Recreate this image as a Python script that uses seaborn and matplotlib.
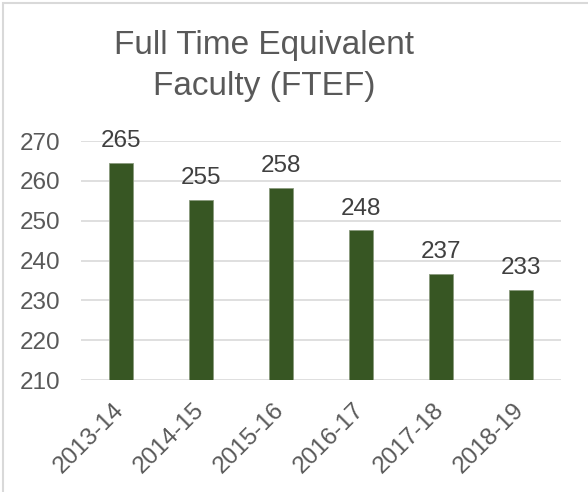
import matplotlib
matplotlib.use("Agg")
import matplotlib.pyplot as plt
from matplotlib.patches import Rectangle
import seaborn as sns
import pandas as pd

# values
years = ["2013-14", "2014-15", "2015-16", "2016-17", "2017-18", "2018-19"]
ftef = [264.6, 255.3, 258.3, 247.6, 236.7, 232.7]

BAR_COLOR = "#375623"
TEXT_GRAY = "#595959"
LABEL_GRAY = "#404040"
GRID_GRAY = "#d9d9d9"

sns.set_theme(style="white")
plt.rcParams["font.family"] = ["Liberation Sans", "DejaVu Sans"]

df = pd.DataFrame({"year": years, "ftef": ftef})

fig = plt.figure(figsize=(5.88, 4.92), dpi=100)
ax = fig.add_axes([0.1378, 0.2276, 0.8162, 0.4858])

sns.barplot(data=df, x="year", y="ftef", color=BAR_COLOR, width=0.31,
            saturation=1, edgecolor="#8a9a7e", linewidth=0.6, ax=ax, zorder=3)

ax.set_ylim(210, 270)
ax.set_yticks(range(210, 271, 10))
ax.set_xlim(-0.5, len(years) - 0.5)
ax.yaxis.grid(True, color=GRID_GRAY, linewidth=1.2, zorder=0)
ax.xaxis.grid(False)
for s in ax.spines.values():
    s.set_visible(False)
ax.tick_params(axis="both", length=0, labelsize=17.5, labelcolor=TEXT_GRAY)
ax.tick_params(axis="y", pad=15)
ax.tick_params(axis="x", pad=19)
ax.set_xlabel("")
ax.set_ylabel("")
for lbl in ax.get_xticklabels():
    lbl.set_rotation(45)
    lbl.set_ha("right")
    lbl.set_va("center")
    lbl.set_rotation_mode("anchor")

for cont in ax.containers:
    ax.bar_label(cont, labels=[f"{v:.0f}" for v in ftef], padding=7.5,
                 fontsize=17.5, color=LABEL_GRAY, clip_on=False)

fig.text(0.449, 0.94, "Full Time Equivalent\nFaculty (FTEF)", ha="center",
         va="top", fontsize=24, color=TEXT_GRAY, linespacing=1.45)

# light chart-area border (left and top edges visible)
fig.patches.append(Rectangle((0.005, -0.05), 1.2, 1.044, transform=fig.transFigure,
                             fill=False, edgecolor=GRID_GRAY, linewidth=1.5))

fig.savefig("out.png", dpi=100, facecolor="white")
